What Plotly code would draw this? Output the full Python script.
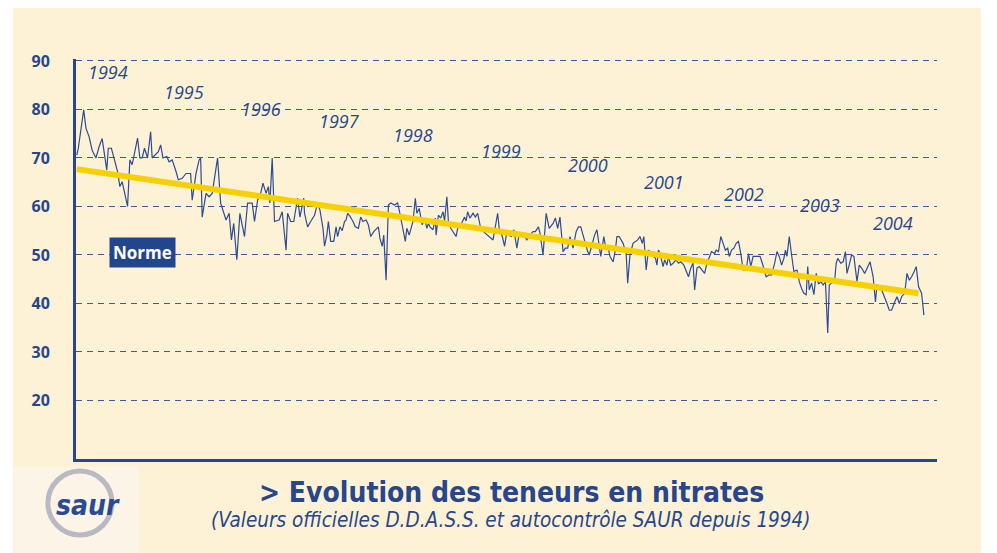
import plotly.graph_objects as go

# ---- data ----
t = [1994.00, 1994.02, 1994.09, 1994.12, 1994.16, 1994.20, 1994.25, 1994.29, 1994.33, 1994.39,
     1994.41, 1994.45, 1994.49, 1994.53, 1994.56, 1994.59, 1994.66, 1994.69, 1994.72, 1994.77,
     1994.79, 1994.82, 1994.85, 1994.88, 1994.92, 1994.96, 1994.98, 1995.06, 1995.09, 1995.12,
     1995.17, 1995.20, 1995.24, 1995.29, 1995.32, 1995.37, 1995.42, 1995.48, 1995.50, 1995.55,
     1995.59, 1995.61, 1995.63, 1995.68, 1995.72, 1995.76, 1995.83, 1995.87, 1995.94, 1995.98,
     1996.01, 1996.04, 1996.08, 1996.12, 1996.18, 1996.22, 1996.28, 1996.31, 1996.35, 1996.39,
     1996.42, 1996.46, 1996.49, 1996.51, 1996.54, 1996.57, 1996.63, 1996.67, 1996.72, 1996.74,
     1996.78, 1996.82, 1996.87, 1996.90, 1996.95, 1996.96, 1997.00, 1997.04, 1997.09, 1997.13,
     1997.16, 1997.20, 1997.22, 1997.25, 1997.27, 1997.30, 1997.34, 1997.37, 1997.39, 1997.42,
     1997.45, 1997.48, 1997.50, 1997.52, 1997.55, 1997.59, 1997.62, 1997.66, 1997.69, 1997.72,
     1997.76, 1997.79, 1997.82, 1997.86, 1997.89, 1997.92, 1997.94, 1997.97, 1997.99, 1998.02,
     1998.05, 1998.08, 1998.13, 1998.17, 1998.19, 1998.22, 1998.27, 1998.29, 1998.32, 1998.37,
     1998.40, 1998.42, 1998.45, 1998.49, 1998.52, 1998.55, 1998.57, 1998.59, 1998.63, 1998.66,
     1998.67, 1998.70, 1998.73, 1998.76, 1998.78, 1998.81, 1998.83, 1998.86, 1998.89, 1998.93,
     1998.95, 1998.99, 1999.04, 1999.06, 1999.08, 1999.11, 1999.15, 1999.18, 1999.21, 1999.25,
     1999.30, 1999.34, 1999.41, 1999.47, 1999.49, 1999.53, 1999.56, 1999.59, 1999.62, 1999.65,
     1999.68, 1999.72, 1999.75, 1999.79, 1999.82, 1999.85, 1999.88, 1999.93, 1999.96, 2000.00,
     2000.02, 2000.06, 2000.10, 2000.14, 2000.19, 2000.22, 2000.25, 2000.28, 2000.32, 2000.35,
     2000.38, 2000.41, 2000.45, 2000.49, 2000.52, 2000.55, 2000.60, 2000.64, 2000.66, 2000.69,
     2000.73, 2000.76, 2000.79, 2000.81, 2000.85, 2000.88, 2000.90, 2000.93, 2000.97, 2001.00,
     2001.02, 2001.05, 2001.10, 2001.14, 2001.16, 2001.19, 2001.23, 2001.26, 2001.29, 2001.32,
     2001.35, 2001.37, 2001.40, 2001.43, 2001.45, 2001.49, 2001.52, 2001.54, 2001.56, 2001.58,
     2001.62, 2001.64, 2001.67, 2001.69, 2001.72, 2001.75, 2001.79, 2001.82, 2001.85, 2001.89,
     2001.92, 2001.95, 2001.98, 2002.01, 2002.03, 2002.06, 2002.09, 2002.12, 2002.16, 2002.19,
     2002.22, 2002.25, 2002.29, 2002.31, 2002.34, 2002.37, 2002.40, 2002.43, 2002.46, 2002.48,
     2002.51, 2002.54, 2002.57, 2002.60, 2002.63, 2002.66, 2002.70, 2002.73, 2002.76, 2002.79,
     2002.82, 2002.85, 2002.88, 2002.91, 2002.96, 2003.00, 2003.03, 2003.07, 2003.10, 2003.13,
     2003.16, 2003.19, 2003.21, 2003.23, 2003.26, 2003.29, 2003.32, 2003.36, 2003.39, 2003.42,
     2003.45, 2003.48, 2003.50, 2003.52, 2003.55, 2003.58, 2003.61, 2003.64, 2003.67, 2003.70,
     2003.73, 2003.76, 2003.78, 2003.81, 2003.85, 2003.87, 2003.89, 2003.93, 2003.96, 2003.99,
     2004.01, 2004.04, 2004.07, 2004.10, 2004.14, 2004.17, 2004.20, 2004.24, 2004.27, 2004.31,
     2004.35, 2004.38, 2004.40, 2004.43, 2004.46, 2004.50, 2004.53, 2004.56, 2004.59, 2004.63,
     2004.66, 2004.69, 2004.72, 2004.76, 2004.79, 2004.82, 2004.85, 2004.88, 2004.91, 2004.94,
     2004.98, 2005.01]

nitrates = [70.6, 72.0, 79.9, 76.1, 74.4, 71.6, 70.0, 72.3, 74.0, 67.5,
            72.0, 72.0, 69.6, 67.2, 64.1, 65.1, 60.0, 69.6, 68.6, 72.7,
            74.1, 70.0, 70.0, 72.0, 70.0, 75.4, 70.0, 71.3, 72.7, 70.0,
            70.3, 69.2, 69.6, 67.2, 65.5, 65.8, 66.8, 66.8, 61.3, 66.8,
            69.6, 70.0, 57.8, 62.7, 62.0, 62.7, 70.0, 60.7, 57.2, 58.6,
            53.1, 56.5, 49.0, 58.6, 53.8, 60.7, 60.7, 56.9, 61.3, 62.7,
            64.8, 62.7, 64.1, 60.7, 70.0, 56.9, 57.2, 58.9, 51.0, 58.6,
            56.9, 56.9, 61.7, 57.8, 61.7, 58.6, 55.8, 56.9, 58.2, 60.7,
            59.3, 55.5, 51.8, 54.1, 56.9, 52.8, 52.8, 55.8, 53.8, 55.8,
            55.0, 56.9, 57.2, 58.6, 58.0, 56.9, 55.8, 55.5, 57.8, 56.9,
            57.2, 56.2, 53.8, 54.8, 55.2, 55.8, 53.4, 51.8, 54.1, 44.8,
            60.3, 60.7, 60.3, 60.7, 59.3, 56.9, 52.8, 55.5, 54.1, 56.9,
            61.7, 58.6, 59.6, 56.2, 57.6, 55.5, 56.5, 55.8, 55.2, 57.6,
            54.1, 58.2, 57.6, 58.9, 57.0, 62.0, 56.9, 55.5, 54.8, 53.8,
            55.5, 56.2, 57.8, 57.0, 58.9, 57.6, 58.6, 57.8, 58.6, 55.5,
            54.6, 54.1, 53.1, 58.6, 55.5, 53.8, 51.8, 54.8, 54.0, 53.8,
            55.2, 51.4, 54.5, 53.8, 53.8, 53.1, 54.0, 54.8, 54.8, 55.8,
            54.5, 50.0, 58.6, 55.5, 56.5, 57.6, 55.5, 57.8, 50.7, 51.4,
            51.4, 53.8, 51.4, 54.8, 55.8, 55.8, 52.8, 50.7, 50.0, 51.8,
            54.1, 55.2, 52.4, 49.7, 53.8, 51.0, 52.0, 49.7, 48.6, 51.0,
            53.8, 53.8, 52.4, 50.3, 44.2, 50.0, 52.4, 52.8, 53.1, 53.8,
            52.4, 53.8, 46.9, 51.0, 50.7, 49.7, 49.4, 47.9, 51.0, 50.3,
            47.6, 49.0, 47.9, 49.7, 47.9, 48.3, 49.0, 48.3, 48.6, 47.9,
            46.6, 45.5, 47.3, 48.3, 42.8, 47.3, 47.6, 46.9, 46.2, 48.3,
            49.7, 50.7, 50.3, 51.0, 50.7, 53.8, 52.4, 51.0, 51.4, 49.7,
            51.0, 51.4, 52.4, 52.8, 50.3, 46.9, 46.9, 50.3, 47.6, 49.7,
            49.7, 49.7, 49.7, 48.3, 45.5, 45.9, 45.9, 48.3, 50.7, 49.7,
            47.9, 49.3, 51.0, 49.7, 53.8, 50.0, 46.6, 46.9, 44.5, 43.1,
            42.1, 41.8, 47.6, 42.8, 44.2, 41.8, 46.2, 44.0, 44.5, 43.8,
            44.5, 33.9, 43.8, 44.2, 44.8, 48.3, 49.3, 48.3, 48.6, 50.7,
            46.2, 48.0, 50.0, 49.7, 44.5, 47.9, 47.3, 46.2, 47.3, 48.6,
            45.5, 40.3, 43.8, 43.5, 42.8, 41.4, 40.0, 38.6, 38.6, 40.3,
            41.4, 40.0, 41.4, 42.1, 46.2, 44.8, 45.5, 46.5, 47.6, 43.5,
            42.1, 37.6]

trend_t = [1994.0, 2004.94]
trend_v = [67.7, 42.1]

y_ticks = [20, 30, 40, 50, 60, 70, 80, 90]

years = ["1994", "1995", "1996", "1997", "1998", "1999",
         "2000", "2001", "2002", "2003", "2004"]

# ---- styling / label placement ----
BLUE = "#27468C"
YEAR_POS = [(1994.40, 87.7), (1995.39, 83.5), (1996.39, 80.0), (1997.42, 77.7),
            (1998.37, 74.8), (1999.51, 71.5), (2000.64, 68.5), (2001.63, 65.0),
            (2002.67, 62.5), (2003.66, 60.4), (2004.61, 56.5)]
COND = "DejaVu Sans Condensed, Liberation Sans Narrow, Arial Narrow, sans-serif"

fig = go.Figure()

fig.add_trace(go.Scatter(x=t, y=nitrates, mode="lines",
                         line=dict(color="#2C4C94", width=1.2),
                         hoverinfo="skip", showlegend=False))
fig.add_trace(go.Scatter(x=trend_t, y=trend_v, mode="lines",
                         line=dict(color="#F6D000", width=6),
                         hoverinfo="skip", showlegend=False))

annotations = []
for lab, (xx, yy) in zip(years, YEAR_POS):
    annotations.append(dict(x=xx, y=yy, xref="x", yref="y", text=lab, showarrow=False,
                            xanchor="center",
                            font=dict(family="Open Sans", size=18, color=BLUE, style="italic")))

annotations.append(dict(x=1994.86, y=50.6, xref="x", yref="y", text="<b>Norme</b>",
                        showarrow=False, bgcolor="#22468C", borderpad=3, xanchor="center",
                        font=dict(family="Open Sans", size=17, color="white")))

annotations.append(dict(x=0.5055, y=-0.083, xref="paper", yref="paper", yanchor="middle",
                        xanchor="center",
                        text="<b>&gt; Evolution des teneurs en nitrates</b>", showarrow=False,
                        font=dict(family=COND, size=28, color=BLUE)))
annotations.append(dict(x=0.5055, y=-0.153, xref="paper", yref="paper", yanchor="middle",
                        xanchor="center",
                        text="<i>(Valeurs officielles D.D.A.S.S. et autocontrôle SAUR depuis 1994)</i>",
                        showarrow=False,
                        font=dict(family=COND, size=20.5, color=BLUE)))
annotations.append(dict(x=0.014, y=-0.115, xref="paper", yref="paper", yanchor="middle",
                        xanchor="center",
                        text="<b><i>saur</i></b>", showarrow=False,
                        font=dict(family=COND, size=28, color="#2A4A92")))

shapes = [
    dict(type="rect", xref="paper", yref="paper", x0=-0.0732, x1=1.0511, y0=-0.235, y1=1.1275,
         fillcolor="#FDF2D6", line=dict(width=0), layer="below"),
    dict(type="rect", xref="paper", yref="paper", x0=-0.0732, x1=0.072, y0=-0.235, y1=-0.02,
         fillcolor="#FCF4E6", line=dict(width=0), layer="below"),
    dict(type="circle", xref="paper", yref="paper", x0=-0.0326, x1=0.0418, y0=-0.19, y1=-0.03,
         fillcolor="rgba(0,0,0,0)", line=dict(color="#B9B9C4", width=5), layer="below"),
]

fig.update_layout(
    width=997, height=553,
    margin=dict(l=76, r=60, t=59, b=94),
    paper_bgcolor="white",
    plot_bgcolor="rgba(0,0,0,0)",
    annotations=annotations,
    shapes=shapes,
    xaxis=dict(range=[1993.99, 2005.18], showgrid=False, zeroline=False,
               showticklabels=False, ticks="", showline=True, linecolor=BLUE, linewidth=3),
    yaxis=dict(range=[7.94, 90.4], tickvals=y_ticks, showgrid=True,
               gridcolor="#3A5A9C", gridwidth=1.2, griddash="6px,5px",
               zeroline=False, showline=True, linecolor=BLUE, linewidth=3,
               ticks="", ticklabelstandoff=20,
               tickfont=dict(family="Open Sans", size=16, color=BLUE, weight="bold")),
)

fig.write_html("out.html", config={"displayModeBar": False},
               post_script="document.body.style.margin='0';")
